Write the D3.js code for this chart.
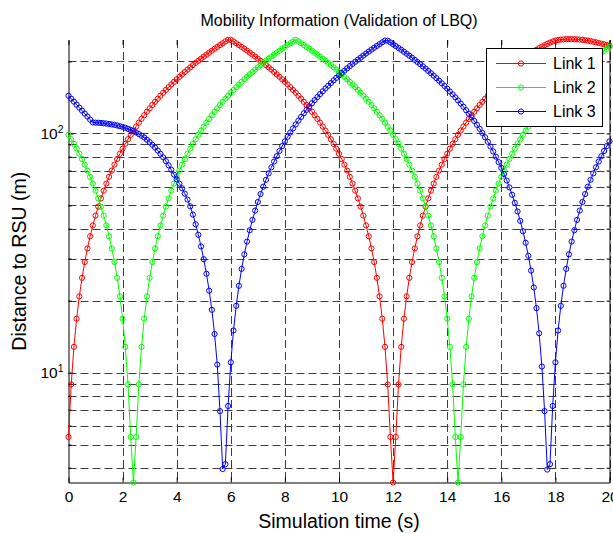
<!DOCTYPE html>
<html>
<head>
<meta charset="utf-8">
<script src="https://cdn.jsdelivr.net/npm/d3@7"></script>
<style>
  body { margin: 0; background: #fff; }
  text { font-family: Arial, "Liberation Sans", sans-serif; fill: #000; }
</style>
</head>
<body>
<div id="chart"></div>
<script>

// distance to RSU (m), one sample every 0.1 s from 0 to 20 s
var link1 = [
  5.38, 8.92, 12.81, 16.80, 20.84, 24.90, 28.98, 33.06, 37.15, 41.25,
  45.34, 49.44, 53.54, 57.64, 61.75, 65.85, 69.96, 74.06, 78.17, 82.27,
  86.38, 90.49, 94.59, 98.70, 102.8, 106.9, 111.0, 115.1, 119.2, 123.3,
  127.4, 131.5, 135.6, 139.7, 143.9, 148.0, 152.1, 156.2, 160.3, 164.4,
  168.5, 172.6, 176.7, 180.8, 185.0, 189.1, 193.2, 197.3, 201.4, 205.5,
  209.6, 213.7, 217.8, 221.9, 226.1, 230.2, 234.3, 238.4, 242.5, 246.6,
  246.6, 242.5, 238.4, 234.3, 230.2, 226.1, 221.9, 217.8, 213.7, 209.6,
  205.5, 201.4, 197.3, 193.2, 189.1, 185.0, 180.8, 176.7, 172.6, 168.5,
  164.4, 160.3, 156.2, 152.1, 148.0, 143.9, 139.7, 135.6, 131.5, 127.4,
  123.3, 119.2, 115.1, 111.0, 106.9, 102.8, 98.70, 94.59, 90.49, 86.38,
  82.27, 78.17, 74.06, 69.96, 65.85, 61.75, 57.64, 53.54, 49.44, 45.34,
  41.25, 37.15, 33.06, 28.98, 24.90, 20.84, 16.80, 12.81, 8.92, 5.38,
  3.47, 5.38, 8.92, 12.81, 16.80, 20.84, 24.90, 28.98, 33.06, 37.15,
  41.25, 45.34, 49.44, 53.54, 57.64, 61.75, 65.85, 69.96, 74.06, 78.17,
  82.27, 86.38, 90.49, 94.59, 98.70, 102.8, 106.9, 111.0, 115.1, 119.2,
  123.3, 127.4, 131.5, 135.6, 139.7, 143.9, 148.0, 152.1, 156.2, 160.3,
  164.4, 169.0, 173.5, 178.5, 183.5, 188.5, 193.5, 198.5, 203.5, 208.0,
  212.5, 216.5, 220.5, 224.0, 227.5, 231.0, 234.0, 237.0, 240.0, 242.5,
  244.5, 246.0, 247.0, 247.5, 248.0, 248.0, 248.0, 248.0, 247.5, 247.0,
  246.5, 245.5, 244.5, 243.5, 242.0, 240.5, 239.0, 237.5, 236.0, 234.5,
  233.0
]

var link2 = [
  98.70, 94.59, 90.49, 86.38, 82.27, 78.17, 74.06, 69.96, 65.85, 61.75,
  57.64, 53.54, 49.44, 45.34, 41.25, 37.15, 33.06, 28.98, 24.90, 20.84,
  16.80, 12.81, 8.92, 5.38, 3.47, 5.38, 8.92, 12.81, 16.80, 20.84,
  24.90, 28.98, 33.06, 37.15, 41.25, 45.34, 49.44, 53.54, 57.64, 61.75,
  65.85, 69.96, 74.06, 78.17, 82.27, 86.38, 90.49, 94.59, 98.70, 102.8,
  106.9, 111.0, 115.1, 119.2, 123.3, 127.4, 131.5, 135.6, 139.7, 143.9,
  148.0, 152.1, 156.2, 160.3, 164.4, 168.5, 172.6, 176.7, 180.8, 185.0,
  189.1, 193.2, 197.3, 201.4, 205.5, 209.6, 213.7, 217.8, 221.9, 226.1,
  230.2, 234.3, 238.4, 242.5, 246.6, 242.5, 238.4, 234.3, 230.2, 226.1,
  221.9, 217.8, 213.7, 209.6, 205.5, 201.4, 197.3, 193.2, 189.1, 185.0,
  180.8, 176.7, 172.6, 168.5, 164.4, 160.3, 156.2, 152.1, 148.0, 143.9,
  139.7, 135.6, 131.5, 127.4, 123.3, 119.2, 115.1, 111.0, 106.9, 102.8,
  98.70, 94.59, 90.49, 86.38, 82.27, 78.17, 74.06, 69.96, 65.85, 61.75,
  57.64, 53.54, 49.44, 45.34, 41.25, 37.15, 33.06, 28.98, 24.90, 20.84,
  16.80, 12.81, 8.92, 5.38, 3.47, 5.38, 8.92, 12.81, 16.80, 20.84,
  24.90, 28.98, 33.06, 37.15, 41.25, 45.34, 49.44, 53.54, 57.64, 61.75,
  65.85, 69.96, 74.06, 78.17, 82.27, 86.38, 90.49, 94.59, 98.70, 102.8,
  106.9, 111.0, 115.1, 119.2, 123.3, 127.4, 131.5, 135.6, 139.7, 143.9,
  148.0, 152.1, 156.2, 160.3, 164.4, 168.5, 172.6, 176.7, 180.8, 185.0,
  189.1, 193.2, 197.3, 201.4, 205.5, 209.6, 213.7, 217.8, 221.9, 226.1,
  230.2
]

var link3 = [
  143.8, 139.7, 135.9, 132.0, 128.2, 124.6, 121.1, 117.7, 114.3, 111.2,
  111.0, 110.9, 110.7, 110.4, 110.0, 109.6, 109.1, 108.6, 108.0, 107.3,
  106.5, 105.6, 104.6, 103.5, 102.3, 101.0, 99.5, 97.9, 96.1, 94.1,
  92.0, 89.7, 87.3, 84.8, 82.2, 79.5, 76.6, 73.6, 70.5, 67.3,
  64.3, 61.7, 59.0, 56.0, 52.9, 49.6, 45.8, 41.7, 37.7, 33.7,
  29.8, 25.9, 22.0, 18.3, 14.5, 10.8, 6.9, 3.95, 4.14, 7.25,
  11.04, 15.0, 19.02, 23.07, 27.14, 31.22, 35.31, 39.4, 43.5, 47.6,
  51.7, 55.8, 59.9, 64.0, 68.1, 72.2, 76.3, 80.4, 84.5, 88.6,
  92.7, 96.9, 100.9, 105.0, 109.1, 113.2, 117.3, 121.4, 125.6, 129.7,
  133.8, 137.9, 142.0, 146.1, 150.2, 154.3, 158.4, 162.5, 166.7, 170.8,
  174.9, 179.0, 183.1, 187.2, 191.3, 195.4, 199.5, 203.6, 207.7, 211.9,
  216.0, 220.1, 224.2, 228.3, 232.4, 236.5, 240.6, 244.7, 244.3, 240.2,
  236.1, 232.0, 227.9, 223.8, 219.7, 215.6, 211.5, 207.4, 203.2, 199.1,
  195.0, 190.9, 186.8, 182.7, 178.6, 174.5, 170.4, 166.2, 162.1, 158.0,
  153.9, 149.8, 145.7, 141.6, 137.5, 133.4, 129.3, 125.1, 121.0, 116.9,
  112.8, 108.7, 104.6, 100.5, 96.4, 92.3, 88.2, 84.1, 80.0, 75.9,
  71.8, 67.7, 63.6, 59.5, 55.4, 51.3, 47.2, 43.1, 39.0, 34.9,
  30.8, 26.7, 22.7, 18.6, 14.6, 10.6, 6.9, 3.93, 4.14, 7.25,
  11.04, 15.0, 19.02, 23.07, 27.14, 31.22, 35.31, 39.4, 43.5, 47.6,
  51.7, 55.8, 59.9, 64.0, 68.1, 72.2, 76.3, 80.4, 84.5, 88.6,
  92.7
]

var seriesNames = ['Link 1', 'Link 2', 'Link 3']
var seriesColors = ['#ff0000', '#00ff00', '#0000ff']

var xTicks = [0, 2, 4, 6, 8, 10, 12, 14, 16, 18, 20]
var yGridTicks = [4, 5, 6, 7, 8, 9, 10, 20, 30, 40, 50, 60, 70, 80, 90, 100, 200]
var yLabelTicks = [10, 100]
var yLabelExp = ['1', '2']

function create_chart() {

  var width = 613
  var height = 533
  var left = 68.5, right = 609.5, top = 40, bottom = 482.5

  var svg = d3.select('div#chart')
    .append('svg')
    .attr('width', width)
    .attr('height', height)

  var time = d3.range(link1.length).map(function(i) { return i / 10 })

  var xScale = d3.scaleLinear()
    .domain([0, 20])
    .range([left, right])

  var yScale = d3.scaleLog()
    .domain([3.47, 246])
    .range([bottom, top])

  // dashed grid
  var grid = svg.append('g')
    .attr('stroke', '#3c3c3c')
    .attr('stroke-width', 1)
    .attr('stroke-dasharray', '8,4')

  grid.selectAll('line.v')
    .data(xTicks.slice(1))
    .enter().append('line')
    .attr('class', 'v')
    .attr('x1', function(d) { return Math.round(xScale(d)) + 0.5 })
    .attr('x2', function(d) { return Math.round(xScale(d)) + 0.5 })
    .attr('y1', top)
    .attr('y2', bottom)

  grid.selectAll('line.h')
    .data(yGridTicks)
    .enter().append('line')
    .attr('class', 'h')
    .attr('x1', left)
    .attr('x2', right)
    .attr('y1', function(d) { return Math.round(yScale(d)) + 0.5 })
    .attr('y2', function(d) { return Math.round(yScale(d)) + 0.5 })

  // axes, ticks pointing inward like matlab
  var xAxis = d3.axisBottom(xScale)
    .tickValues(xTicks)
    .tickSizeInner(-5)
    .tickSizeOuter(0)
    .tickPadding(8)

  var gx = svg.append('g')
    .attr('transform', 'translate(0,' + bottom + ')')
    .call(xAxis)

  gx.selectAll('text')
    .attr('font-size', '15.5px')
    .attr('font-family', 'Arial, "Liberation Sans", sans-serif')

  svg.append('g')
    .attr('transform', 'translate(0,' + top + ')')
    .call(d3.axisTop(xScale).tickValues(xTicks).tickSizeInner(-5).tickSizeOuter(0).tickFormat(''))
    .select('.domain').remove()

  var yAxis = d3.axisLeft(yScale)
    .tickValues(yGridTicks)
    .tickSizeInner(-3)
    .tickSizeOuter(0)
    .tickFormat('')

  var gy = svg.append('g')
    .attr('transform', 'translate(' + left + ',0)')
    .call(yAxis)

  gy.selectAll('.tick line')
    .filter(function(d) { return yLabelTicks.indexOf(d) >= 0 })
    .attr('x2', 5)

  svg.append('g')
    .attr('transform', 'translate(' + right + ',0)')
    .call(d3.axisRight(yScale).tickValues(yGridTicks).tickSizeInner(-3).tickSizeOuter(0).tickFormat(''))

  svg.selectAll('.domain').attr('stroke', '#000')
  svg.selectAll('.tick line').attr('stroke', '#000')

  var ylab = svg.selectAll('text.ylab')
    .data(yLabelTicks)
    .enter().append('text')
    .attr('class', 'ylab')
    .attr('x', left - 5)
    .attr('y', function(d) { return yScale(d) })
    .attr('dy', '0.36em')
    .attr('text-anchor', 'end')
    .attr('font-size', '15.5px')

  ylab.append('tspan').text('10')
  ylab.append('tspan')
    .attr('dy', '-0.55em')
    .attr('font-size', '10.5px')
    .text(function(d, i) { return yLabelExp[i] })

  // series
  var line = d3.line()
    .x(function(d, i) { return xScale(time[i]) })
    .y(function(d) { return yScale(d) })

  var allSeries = [link1, link2, link3]

  allSeries.forEach(function(values, s) {
    var g = svg.append('g')

    g.append('path')
      .datum(values)
      .attr('d', line)
      .attr('fill', 'none')
      .attr('stroke', seriesColors[s])
      .attr('stroke-width', 1)

    g.selectAll('circle')
      .data(values)
      .enter().append('circle')
      .attr('cx', function(d, i) { return xScale(time[i]) })
      .attr('cy', function(d) { return yScale(d) })
      .attr('r', 2.6)
      .attr('fill', 'none')
      .attr('stroke', seriesColors[s])
      .attr('stroke-width', 1)
  })

  // legend
  var legend = svg.append('g')

  legend.append('rect')
    .attr('x', 486.5)
    .attr('y', 48.5)
    .attr('width', 116)
    .attr('height', 78)
    .attr('fill', '#fff')
    .attr('stroke', '#000')

  var item = legend.selectAll('g.item')
    .data(seriesNames)
    .enter().append('g')
    .attr('class', 'item')
    .attr('transform', function(d, i) { return 'translate(0,' + (63.5 + i * 24) + ')' })

  item.append('line')
    .attr('x1', 496)
    .attr('x2', 546)
    .attr('stroke', function(d, i) { return seriesColors[i] })

  item.append('circle')
    .attr('cx', 521)
    .attr('r', 2.6)
    .attr('fill', 'none')
    .attr('stroke', function(d, i) { return seriesColors[i] })

  item.append('text')
    .attr('x', 553)
    .attr('dy', '0.36em')
    .attr('font-size', '16px')
    .text(function(d) { return d })

  // titles
  svg.append('text')
    .attr('x', (left + right) / 2)
    .attr('y', 25.5)
    .attr('text-anchor', 'middle')
    .attr('font-size', '16px')
    .text('Mobility Information (Validation of LBQ)')

  svg.append('text')
    .attr('x', (left + right) / 2)
    .attr('y', 528)
    .attr('text-anchor', 'middle')
    .attr('font-size', '19.5px')
    .text('Simulation time (s)')

  svg.append('text')
    .attr('transform', 'translate(26,' + (top + bottom) / 2 + ') rotate(-90)')
    .attr('text-anchor', 'middle')
    .attr('font-size', '19.5px')
    .text('Distance to RSU (m)')
}

create_chart()

</script>
</body>
</html>
